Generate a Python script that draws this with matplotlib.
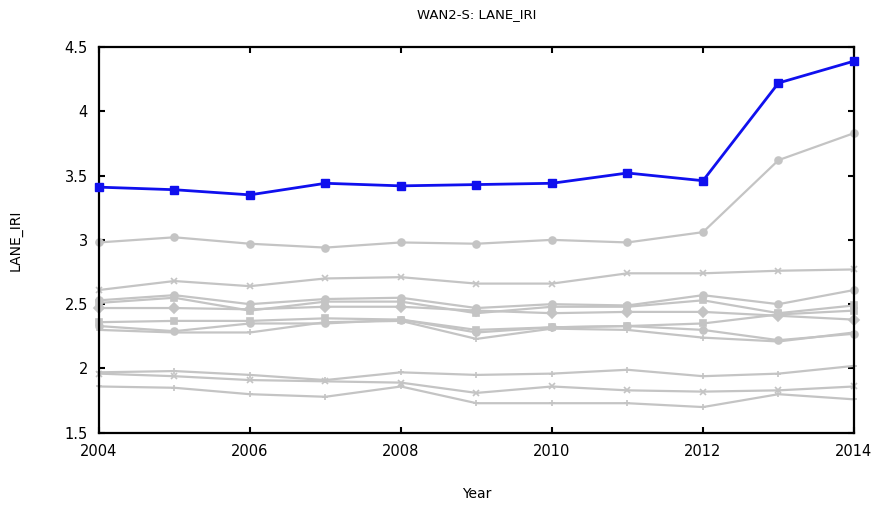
import matplotlib.pyplot as plt

years = list(range(2004, 2015))

# highlighted section
wan2_s = [3.41, 3.39, 3.35, 3.44, 3.42, 3.43, 3.44, 3.52, 3.46, 4.22, 4.39]

# other sections (grey)
others = [
    ([2.98, 3.02, 2.97, 2.94, 2.98, 2.97, 3.00, 2.98, 3.06, 3.62, 3.83], 'o'),
    ([2.61, 2.68, 2.64, 2.70, 2.71, 2.66, 2.66, 2.74, 2.74, 2.76, 2.77], 'x'),
    ([2.53, 2.57, 2.50, 2.54, 2.55, 2.47, 2.50, 2.49, 2.57, 2.50, 2.61], 'o'),
    ([2.51, 2.55, 2.45, 2.52, 2.52, 2.43, 2.48, 2.48, 2.53, 2.43, 2.49], 's'),
    ([2.47, 2.47, 2.46, 2.48, 2.48, 2.45, 2.43, 2.44, 2.44, 2.41, 2.38], 'D'),
    ([2.36, 2.37, 2.37, 2.39, 2.38, 2.30, 2.32, 2.33, 2.35, 2.42, 2.45], 's'),
    ([2.33, 2.29, 2.35, 2.35, 2.38, 2.28, 2.32, 2.33, 2.30, 2.22, 2.27], 'o'),
    ([2.30, 2.28, 2.28, 2.36, 2.37, 2.23, 2.31, 2.30, 2.24, 2.21, 2.28], '+'),
    ([1.97, 1.98, 1.95, 1.91, 1.97, 1.95, 1.96, 1.99, 1.94, 1.96, 2.02], '+'),
    ([1.96, 1.94, 1.91, 1.90, 1.89, 1.81, 1.86, 1.83, 1.82, 1.83, 1.86], 'x'),
    ([1.86, 1.85, 1.80, 1.78, 1.86, 1.73, 1.73, 1.73, 1.70, 1.80, 1.76], '+'),
]

y_ticks = [1.5, 2, 2.5, 3, 3.5, 4, 4.5]
y_tick_labels = ['1.5', '2', '2.5', '3', '3.5', '4', '4.5']
x_ticks = [2004, 2006, 2008, 2010, 2012, 2014]

fig = plt.figure(figsize=(8.75, 5.05), dpi=100)
ax = fig.add_axes([0.113, 0.143, 0.863, 0.764])

for vals, mk in others:
    ax.plot(years, vals, color='#c4c4c4', lw=1.6, marker=mk, markersize=5,
            markeredgewidth=1.2, clip_on=False)

ax.plot(years, wan2_s, color='#1010ee', lw=2, marker='s', markersize=5.5,
        clip_on=False, zorder=5)

ax.set_xlim(2004, 2014)
ax.set_ylim(1.5, 4.5)
ax.set_xticks(x_ticks)
ax.set_yticks(y_ticks)
ax.set_yticklabels(y_tick_labels)
ax.tick_params(direction='in', top=True, right=True, labelsize=10.5, width=1.5, length=4)
ax.tick_params(axis='x', pad=8)
ax.tick_params(axis='y', pad=8)
for s in ax.spines.values():
    s.set_linewidth(1.6)

ax.set_title("WAN2-S: LANE_IRI", fontsize=9.5, pad=21)
ax.set_xlabel("Year", fontsize=10, labelpad=20)
ax.set_ylabel("LANE_IRI", fontsize=10, labelpad=30)

fig.savefig("out.png", dpi=100)
